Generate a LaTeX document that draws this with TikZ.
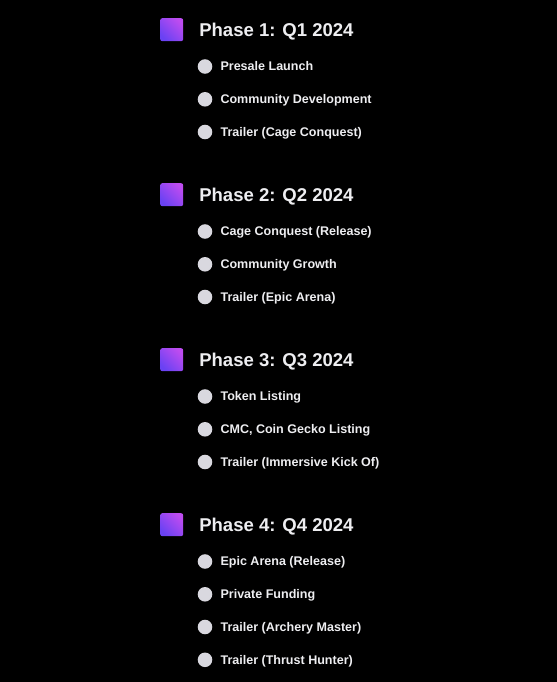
\documentclass[tikz,border=0pt]{standalone}
\usepackage{fontspec}
\setmainfont{Liberation Sans}
\usepackage{tikz}
\usetikzlibrary{positioning}
\definecolor{bulletgray}{HTML}{D9D8DF}
\definecolor{textwhite}{HTML}{EEEEF1}
\definecolor{phasetop}{HTML}{BE4CF0}
\definecolor{phasebot}{HTML}{6A42F3}

\begin{document}
\begin{tikzpicture}[x=0.75pt,y=-0.75pt,node distance=5.8pt]
  \tikzstyle{phasebox}=[rectangle,rounded corners=1.5pt,minimum size=17.2pt,inner sep=0pt,
                        top color=phasetop,bottom color=phasebot,shading angle=-45]
  \tikzstyle{phasetitle}=[inner sep=0pt,text=textwhite,text height=10pt,text depth=0pt,
                          font=\bfseries\fontsize{13.9}{16}\selectfont]
  \tikzstyle{dot}=[circle,fill=bulletgray,minimum size=10.9pt,inner sep=0pt]
  \tikzstyle{item}=[inner sep=0pt,text=textwhite,text height=6.7pt,text depth=0pt,
                    font=\bfseries\fontsize{9.4}{11}\selectfont]

  \fill[black] (0,0) rectangle (557,682);

  % phase 1
  \node[phasebox] (p1) at (171.7,29.7) {};
  \node[phasetitle] (t1) [right=11.7pt of p1] {Phase 1: Q1 2024};
  \node[dot] (b11) at (205,66.5) {};
  \node[item] (i11) [right=of b11] {Presale Launch};
  \node[dot] (b12) at (205,99.3) {};
  \node[item] (i12) [right=of b12] {Community Development};
  \node[dot] (b13) at (205,132) {};
  \node[item] (i13) [right=of b13] {Trailer (Cage Conquest)};

  % phase 2
  \node[phasebox] (p2) at (171.7,194.7) {};
  \node[phasetitle] (t2) [right=11.7pt of p2] {Phase 2: Q2 2024};
  \node[dot] (b21) at (205,231.5) {};
  \node[item] (i21) [right=of b21] {Cage Conquest (Release)};
  \node[dot] (b22) at (205,264.3) {};
  \node[item] (i22) [right=of b22] {Community Growth};
  \node[dot] (b23) at (205,297) {};
  \node[item] (i23) [right=of b23] {Trailer (Epic Arena)};

  % phase 3
  \node[phasebox] (p3) at (171.7,359.7) {};
  \node[phasetitle] (t3) [right=11.7pt of p3] {Phase 3: Q3 2024};
  \node[dot] (b31) at (205,396.5) {};
  \node[item] (i31) [right=of b31] {Token Listing};
  \node[dot] (b32) at (205,429.3) {};
  \node[item] (i32) [right=of b32] {CMC, Coin Gecko Listing};
  \node[dot] (b33) at (205,462) {};
  \node[item] (i33) [right=of b33] {Trailer (Immersive Kick Of)};

  % phase 4
  \node[phasebox] (p4) at (171.7,524.7) {};
  \node[phasetitle] (t4) [right=11.7pt of p4] {Phase 4: Q4 2024};
  \node[dot] (b41) at (205,561.5) {};
  \node[item] (i41) [right=of b41] {Epic Arena (Release)};
  \node[dot] (b42) at (205,594.3) {};
  \node[item] (i42) [right=of b42] {Private Funding};
  \node[dot] (b43) at (205,627) {};
  \node[item] (i43) [right=of b43] {Trailer (Archery Master)};
  \node[dot] (b44) at (205,659.8) {};
  \node[item] (i44) [right=of b44] {Trailer (Thrust Hunter)};
\end{tikzpicture}
\end{document}
